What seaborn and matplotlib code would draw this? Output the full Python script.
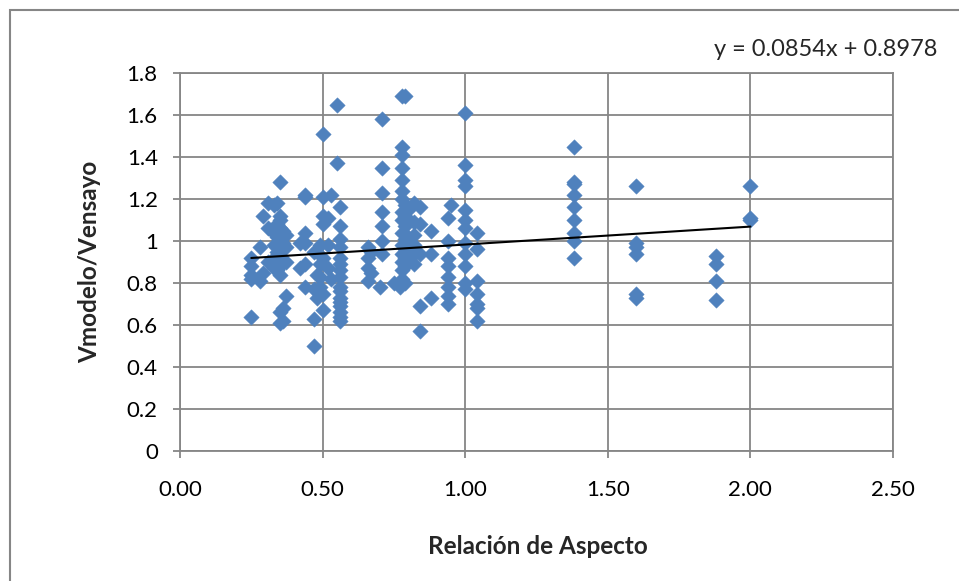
import matplotlib
matplotlib.use("Agg")
import matplotlib.pyplot as plt
import matplotlib.patches as mpatches
import numpy as np
import pandas as pd
import seaborn as sns

# ---- data ----
col_x = [0.25, 0.28, 0.29, 0.31, 0.33, 0.34, 0.35, 0.36, 0.37, 0.42, 0.44, 0.47,
         0.48, 0.49, 0.50, 0.52, 0.53, 0.55, 0.56, 0.66, 0.67, 0.70, 0.71, 0.75,
         0.77, 0.78, 0.79, 0.80, 0.82, 0.84, 0.88, 0.94, 0.95, 1.00, 1.04, 1.38,
         1.60, 1.88, 2.00]
col_y = [
    [0.92, 0.88, 0.84, 0.82, 0.64],
    [0.97, 0.81],
    [1.12, 0.85],
    [1.18, 1.06, 0.90],
    [1.17, 1.04, 0.98, 0.92, 0.87],
    [1.18, 1.08, 1.02, 0.95, 0.86],
    [1.28, 1.12, 1.10, 1.06, 1.00, 0.96, 0.93, 0.88, 0.84, 0.66, 0.61],
    [1.05, 0.99, 0.91, 0.68, 0.62],
    [1.03, 0.97, 0.90, 0.74],
    [0.99, 0.87],
    [1.22, 1.21, 1.04, 0.99, 0.89, 0.78],
    [0.95, 0.77, 0.63, 0.50],
    [0.84, 0.73],
    [0.98, 0.89, 0.83, 0.78],
    [1.51, 1.21, 1.12, 1.08, 0.92, 0.75, 0.67],
    [1.11, 0.98, 0.87],
    [1.22, 0.82],
    [1.65, 1.37],
    [1.16, 1.07, 1.01, 0.97, 0.92, 0.89, 0.86, 0.83, 0.78, 0.76, 0.73, 0.71,
     0.69, 0.66, 0.64, 0.62],
    [0.97, 0.92, 0.87, 0.81],
    [0.95, 0.85],
    [0.78],
    [1.58, 1.35, 1.23, 1.14, 1.07, 1.00, 0.94],
    [0.80],
    [0.78],
    [1.69, 1.45, 1.41, 1.35, 1.29, 1.24, 1.20, 1.14, 1.10, 1.04, 0.98, 0.94,
     0.90, 0.86, 0.82],
    [1.69, 1.17, 1.12, 1.07, 1.01, 0.96, 0.92, 0.88, 0.80],
    [1.15, 1.10, 1.02, 0.97, 0.93],
    [1.18, 1.09, 1.03, 0.98, 0.94, 0.89],
    [1.16, 1.08, 0.94, 0.69, 0.57],
    [1.05, 0.94, 0.73],
    [1.11, 1.00, 0.92, 0.88, 0.83, 0.78, 0.74, 0.70],
    [1.17],
    [1.61, 1.36, 1.29, 1.26, 1.15, 1.10, 1.06, 0.99, 0.94, 0.88, 0.80, 0.77],
    [1.04, 0.96, 0.81, 0.75, 0.70, 0.68, 0.62],
    [1.45, 1.28, 1.27, 1.22, 1.16, 1.10, 1.04, 1.00, 0.92],
    [1.26, 0.99, 0.97, 0.94, 0.75, 0.73],
    [0.93, 0.89, 0.81, 0.72],
    [1.26, 1.11, 1.10],
]
trend_slope = 0.0854
trend_intercept = 0.8978
trend_label = "y = 0.0854x + 0.8978"
x_ticks = [0.0, 0.5, 1.0, 1.5, 2.0, 2.5]
x_tick_labels = ["0.00", "0.50", "1.00", "1.50", "2.00", "2.50"]
y_ticks = [0, 0.2, 0.4, 0.6, 0.8, 1.0, 1.2, 1.4, 1.6, 1.8]
y_tick_labels = ["0", "0.2", "0.4", "0.6", "0.8", "1", "1.2", "1.4", "1.6", "1.8"]
x_label = "Relación de Aspecto"
y_label = "Vmodelo/Vensayo"

xs, ys = [], []
for cx, cy in zip(col_x, col_y):
    for v in cy:
        xs.append(cx)
        ys.append(v)
df = pd.DataFrame({"x": xs, "y": ys})

tx = np.array([min(xs), max(xs)])
trend_df = pd.DataFrame({"x": tx, "y": trend_slope * tx + trend_intercept})

# ---- plotting ----
sns.set_theme(style="white")
plt.rcParams["font.family"] = ["Lato", "DejaVu Sans"]

GRID = "#868686"
BLUE = "#4F81BD"

fig = plt.figure(figsize=(9.59, 5.81), dpi=100)
ax = fig.add_axes([180 / 959, 1 - 451 / 581, (893 - 180) / 959, (451 - 73) / 581])

sns.scatterplot(data=df, x="x", y="y", ax=ax, marker="D", s=62, color=BLUE,
                edgecolor=BLUE, linewidth=0.3, zorder=3, legend=False)
sns.lineplot(data=trend_df, x="x", y="y", ax=ax, color="black", linewidth=1.5,
             zorder=4, legend=False)

ax.set_xlim(0, 2.5)
ax.set_ylim(0, 1.8)
ax.set_xticks(x_ticks)
ax.set_xticklabels(x_tick_labels)
ax.set_yticks(y_ticks)
ax.set_yticklabels(y_tick_labels)
ax.grid(True, color=GRID, linewidth=1.3)
ax.set_axisbelow(True)
for sp in ax.spines.values():
    sp.set_color(GRID)
    sp.set_linewidth(1.3)
    sp.set_visible(True)
ax.tick_params(axis="both", which="both", direction="out", length=5, width=1.3,
               color=GRID, labelsize=16, labelcolor="black")
ax.tick_params(axis="y", pad=11)
ax.tick_params(axis="x", pad=16)
ax.yaxis.set_ticks_position("left")
ax.xaxis.set_ticks_position("bottom")

ax.set_xlabel("")
ax.set_ylabel("")
fig.text(538 / 959, 1 - 546 / 581, x_label, ha="center", va="center",
         fontsize=17.5, fontweight="bold")
fig.text(90 / 959, 1 - 262 / 581, y_label, ha="center", va="center",
         rotation=90, fontsize=17.5, fontweight="bold")
fig.text(937 / 959, 1 - 50 / 581, trend_label, ha="right", va="center",
         fontsize=17)

fig.patches.append(mpatches.Rectangle((10 / 959, -0.05), 1.0, 1 - 10 / 581 + 0.05,
                                      transform=fig.transFigure, fill=False,
                                      edgecolor=GRID, linewidth=1.5))

fig.savefig("out.png", dpi=100)
